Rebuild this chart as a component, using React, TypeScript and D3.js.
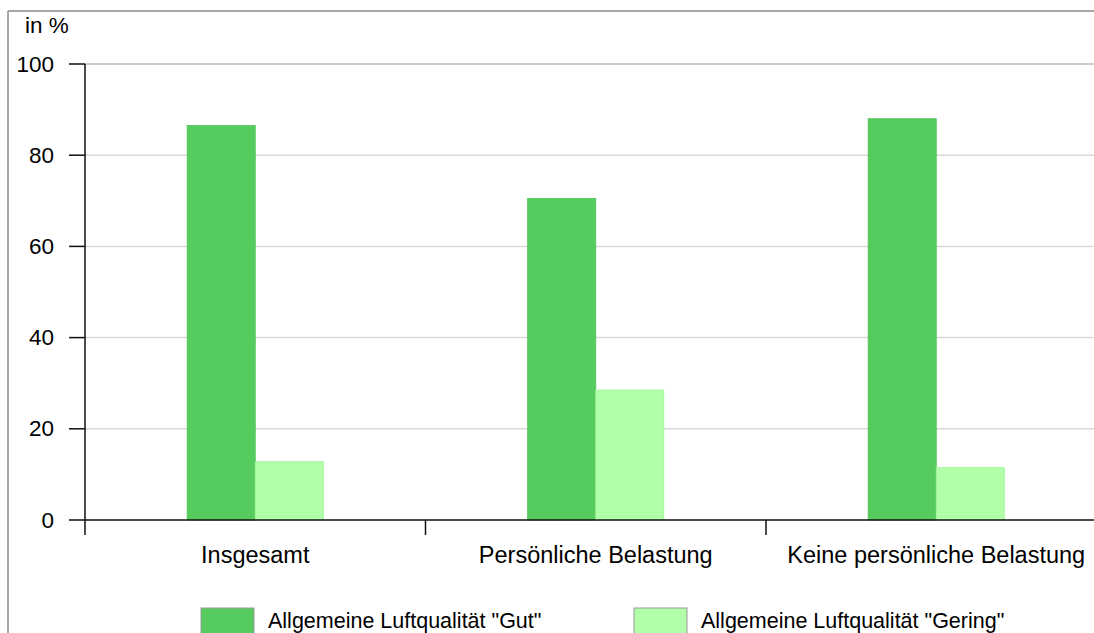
import React from "react";
import * as d3 from "d3";

const categories = ["Insgesamt", "Persönliche Belastung", "Keine persönliche Belastung"];
const seriesNames = ['Allgemeine Luftqualität "Gut"', 'Allgemeine Luftqualität "Gering"'];
const gutValues = [86.5, 70.5, 88];
const geringValues = [12.8, 28.5, 11.5];
const yTicks = [0, 20, 40, 60, 80, 100];
const colors = ["#56CC5E", "#B1FFA9"];
const strokes = ["#4FC457", "#A3F59B"];

export default function App() {
  const W = 1094, H = 633;
  const left = 85, top = 64, bottom = 520;
  const bandW = 340.5;
  const x0 = d3.scaleBand<string>().domain(categories).range([left, left + bandW * 3]).padding(0);
  const groupW = x0.bandwidth() * 0.4;
  const x1 = d3.scaleBand<number>().domain([0, 1]).range([0, groupW]).padding(0);
  const y = d3.scaleLinear().domain([0, 100]).range([bottom, top]);
  const series = [gutValues, geringValues];
  const font = "'Liberation Sans', Arial, sans-serif";

  return (
    <svg width={W} height={H} style={{ position: "absolute", left: 0, top: 0, background: "#fff" }} fontFamily={font}>
      <rect x={0} y={0} width={W} height={H} fill="#fff" />
      {/* frame */}
      <line x1={8} x2={W} y1={11} y2={11} stroke="#8a8a8a" strokeWidth={1.5} />
      <line x1={8} x2={8} y1={11} y2={H} stroke="#8a8a8a" strokeWidth={1.5} />
      {/* gridlines */}
      {yTicks.filter(t => t > 0).map(t => (
        <line key={t} x1={left} x2={W} y1={y(t)} y2={y(t)} stroke={t === 100 ? "#9a9a9a" : "#d9d9d9"} strokeWidth={t === 100 ? 1.2 : 1.5} />
      ))}
      {/* bars */}
      {categories.map((c, i) => {
        const gx = (x0(c) as number) + x0.bandwidth() / 2 - groupW / 2;
        return series.map((s, j) => (
          <rect key={c + j} x={gx + (x1(j) as number)} y={y(s[i])} width={x1.bandwidth()} height={y(0) - y(s[i])}
            fill={colors[j]} stroke={strokes[j]} strokeWidth={0.8} />
        ));
      })}
      {/* y axis */}
      <line x1={left} x2={left} y1={top} y2={535} stroke="#111" strokeWidth={1.5} />
      {yTicks.map(t => (
        <g key={t}>
          <line x1={69} x2={left} y1={y(t)} y2={y(t)} stroke="#111" strokeWidth={1.5} />
          <text x={54} y={y(t)} textAnchor="end" dominantBaseline="central" fontSize={22.5} fill="#000">{t}</text>
        </g>
      ))}
      {/* x axis */}
      <line x1={left} x2={W} y1={bottom} y2={bottom} stroke="#111" strokeWidth={1.5} />
      {categories.map((c, i) => (
        <g key={c}>
          {i > 0 && <line x1={x0(c) as number} x2={x0(c) as number} y1={bottom} y2={535} stroke="#111" strokeWidth={1.5} />}
          <text x={(x0(c) as number) + x0.bandwidth() / 2} y={563} textAnchor="middle" fontSize={23.5} fill="#000">{c}</text>
        </g>
      ))}
      <text x={25} y={33} fontSize={22.5} fill="#000">in %</text>
      {/* legend */}
      {seriesNames.map((n, j) => {
        const lx = [201, 634][j];
        return (
          <g key={n}>
            <rect x={lx} y={608} width={53} height={26} fill={colors[j]} stroke="#9a9a9a" strokeWidth={1} />
            <text x={lx + 67} y={628} fontSize={21.5} fill="#000">{n}</text>
          </g>
        );
      })}
    </svg>
  );
}
